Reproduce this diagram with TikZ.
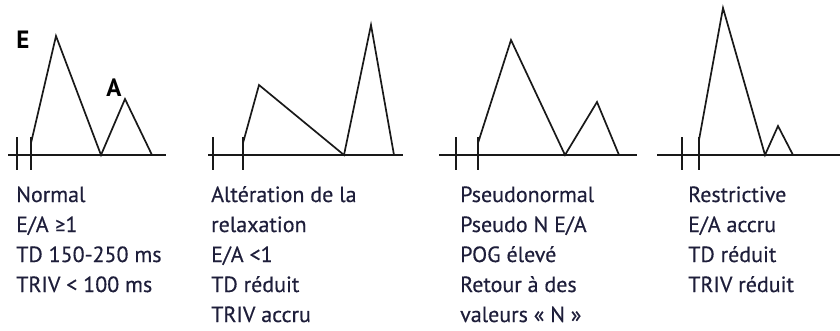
\documentclass[tikz,border=0pt]{standalone}
\usepackage{fontspec}
\setmainfont{PT Sans}[FakeBold=0.4]
\newfontfamily\peakfam{PT Sans Bold}
\newfontfamily\symfam{Carlito}[FakeBold=0.4]
\definecolor{txtcol}{RGB}{30,30,58}
\definecolor{linecol}{RGB}{25,25,25}
\newcommand{\labfont}{\fontsize{22}{30}\selectfont}
\newcommand{\peakfont}{\peakfam\fontsize{25}{28}\selectfont}
\newcommand{\gesym}{{\symfam ≥}}
\begin{document}
\begin{tikzpicture}[x=1pt,y=-1pt,
  axisline/.style={draw=linecol, line width=1.7pt},
  tickline/.style={draw=linecol, line width=1.7pt},
  wave/.style={draw=linecol, line width=1.7pt, line join=miter},
  txt/.style={anchor=base west, inner sep=0pt, font=\labfont, text=txtcol},
  peaklab/.style={anchor=center, inner sep=0pt, font=\peakfont, text=black}]
\useasboundingbox (0,0) rectangle (840,330);

% ---------- Panel 1 : Normal
\draw[axisline] (8,155) -- (166,155);
\draw[tickline] (17,137) -- (17,170);
\draw[tickline] (31,137) -- (31,170);
\draw[wave] (31,143) -- (56,36) -- (101,155) -- (125,99) -- (152,155);
\node[peaklab] (E) at (23,40) {E};
\node[peaklab] (A) at (114,88) {A};
\node[txt] (t11) at (16,202) {Normal};
\node[txt] (t12) at (16,232) {E/A \gesym1};
\node[txt] (t13) at (16,262) {TD 150-250 ms};
\node[txt] (t14) at (16,292) {TRIV < 100 ms};

% ---------- Panel 2 : Alteration de la relaxation
\draw[axisline] (208,155) -- (403,155);
\draw[tickline] (213,137) -- (213,170);
\draw[tickline] (243,137) -- (243,170);
\draw[wave] (243,143) -- (259,85) -- (344,155) -- (371,25) -- (394,155);
\node[txt] (t21) at (211,202) {Altération de la};
\node[txt] (t22) at (211,232) {relaxation};
\node[txt] (t23) at (211,262) {E/A <1};
\node[txt] (t24) at (211,292) {TD réduit};
\node[txt] (t25) at (211,322) {TRIV accru};

% ---------- Panel 3 : Pseudonormal
\draw[axisline] (439,155) -- (637,155);
\draw[tickline] (456,137) -- (456,170);
\draw[tickline] (478,137) -- (478,170);
\draw[wave] (478,143) -- (511,40) -- (565,155) -- (597,102) -- (619,155);
\node[txt] (t31) at (460,202) {Pseudonormal};
\node[txt] (t32) at (460,232) {Pseudo N E/A};
\node[txt] (t33) at (460,262) {POG élevé};
\node[txt] (t34) at (460,292) {Retour à des};
\node[txt] (t35) at (460,322) {valeurs «~N~»};

% ---------- Panel 4 : Restrictive
\draw[axisline] (657,155) -- (840,155);
\draw[tickline] (682,137) -- (682,170);
\draw[tickline] (699,137) -- (699,170);
\draw[wave] (699,140) -- (723,8) -- (765,155) -- (778,126) -- (793,155);
\node[txt] (t41) at (688,202) {Restrictive};
\node[txt] (t42) at (688,232) {E/A accru};
\node[txt] (t43) at (688,262) {TD réduit};
\node[txt] (t44) at (688,292) {TRIV réduit};
\end{tikzpicture}
\end{document}
